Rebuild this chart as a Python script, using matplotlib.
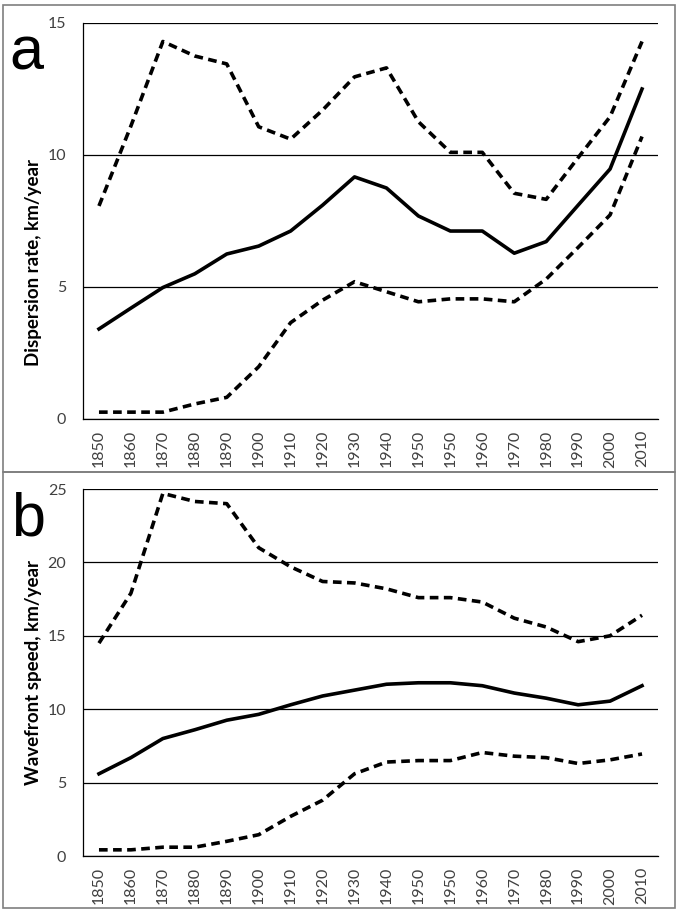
import numpy as np
import matplotlib.pyplot as plt
from matplotlib.patches import Rectangle

# category labels as printed on the chart (1950 appears twice)
years = ["1850", "1860", "1870", "1880", "1890", "1900", "1910", "1920", "1930",
         "1940", "1950", "1950", "1960", "1970", "1980", "1990", "2000", "2010"]

# panel a: dispersion rate
disp_mid = [3.41, 4.2, 4.98, 5.5, 6.25, 6.55, 7.12, 8.1, 9.17,
            8.75, 7.69, 7.12, 7.12, 6.28, 6.72, 8.1, 9.47, 12.5]
disp_hi = [8.07, 11.1, 14.3, 13.75, 13.45, 11.07, 10.6, 11.7, 12.96,
           13.3, 11.26, 10.1, 10.1, 8.55, 8.32, 9.9, 11.45, 14.3]
disp_lo = [0.26, 0.26, 0.26, 0.57, 0.82, 1.98, 3.65, 4.5, 5.2,
           4.82, 4.44, 4.55, 4.55, 4.44, 5.3, 6.5, 7.73, 10.7]

# panel b: wavefront speed
wave_mid = [5.6, 6.7, 8.0, 8.6, 9.25, 9.65, 10.3, 10.9, 11.3,
            11.7, 11.8, 11.8, 11.6, 11.1, 10.75, 10.3, 10.55, 11.6]
wave_hi = [14.5, 17.9, 24.7, 24.15, 24.0, 21.0, 19.7, 18.7, 18.6,
           18.2, 17.6, 17.6, 17.3, 16.2, 15.6, 14.6, 15.0, 16.4]
wave_lo = [0.42, 0.42, 0.6, 0.6, 1.0, 1.45, 2.7, 3.8, 5.6,
           6.4, 6.5, 6.5, 7.05, 6.8, 6.7, 6.3, 6.55, 6.95]

W, H = 679, 922
fig = plt.figure(figsize=(W / 100, H / 100), dpi=100)
fig.patch.set_facecolor("white")

tick_font = "Lato"
tick_col = "#404040"


def px_axes(left, top, right, bottom):
    return fig.add_axes([left / W, 1 - bottom / H, (right - left) / W, (bottom - top) / H])


def draw_panel(ax, mid, hi, lo, ymax):
    x = np.arange(len(years))
    ax.plot(x, mid, color="black", lw=2.6, solid_joinstyle="round")
    for s in (hi, lo):
        ax.plot(x, s, color="black", lw=2.6, dashes=(2.4, 1.5), dash_capstyle="butt")
    ax.set_xlim(-0.5, len(years) - 0.5)
    ax.set_ylim(0, ymax)
    ax.set_yticks(np.arange(0, ymax + 1, 5))
    ax.set_xticks(x)
    ax.set_xticklabels(years, rotation=90)
    ax.grid(axis="y", color="black", lw=0.9)
    ax.set_axisbelow(True)
    for side in ("top", "right"):
        ax.spines[side].set_visible(False)
    ax.spines["left"].set_linewidth(0.9)
    ax.spines["bottom"].set_linewidth(0.9)
    ax.tick_params(axis="x", length=0, pad=8, labelsize=11.5, labelcolor=tick_col)
    ax.tick_params(axis="y", length=0, pad=12, labelsize=11.5, labelcolor=tick_col)
    for t in ax.get_xticklabels() + ax.get_yticklabels():
        t.set_fontfamily(tick_font)


ax1 = px_axes(83, 23, 658, 419)
draw_panel(ax1, disp_mid, disp_hi, disp_lo, 15)
ax2 = px_axes(83, 489, 658, 856)
draw_panel(ax2, wave_mid, wave_hi, wave_lo, 25)

# y labels
fig.text(34 / W, 1 - 262 / H, "Dispersion rate, km/year", rotation=90, ha="center", va="center",
         fontsize=13.5, fontweight="bold", family="Lato")
fig.text(34 / W, 1 - 672 / H, "Wavefront speed, km/year", rotation=90, ha="center", va="center",
         fontsize=13.5, fontweight="bold", family="Lato")

# panel letters
fig.text(9 / W, 1 - 70 / H, "a", fontsize=44, family="Liberation Sans", va="baseline")
fig.text(11 / W, 1 - 535 / H, "b", fontsize=44, family="Liberation Sans", va="baseline")

# outer boxes
for (l, t, r, b) in [(2.5, 5, 675, 472), (2.5, 472, 675, 908)]:
    fig.patches.append(Rectangle((l / W, 1 - b / H), (r - l) / W, (b - t) / H, transform=fig.transFigure,
                                 fill=False, edgecolor="#7f7f7f", lw=1.2))

fig.savefig("out.png", dpi=100)
